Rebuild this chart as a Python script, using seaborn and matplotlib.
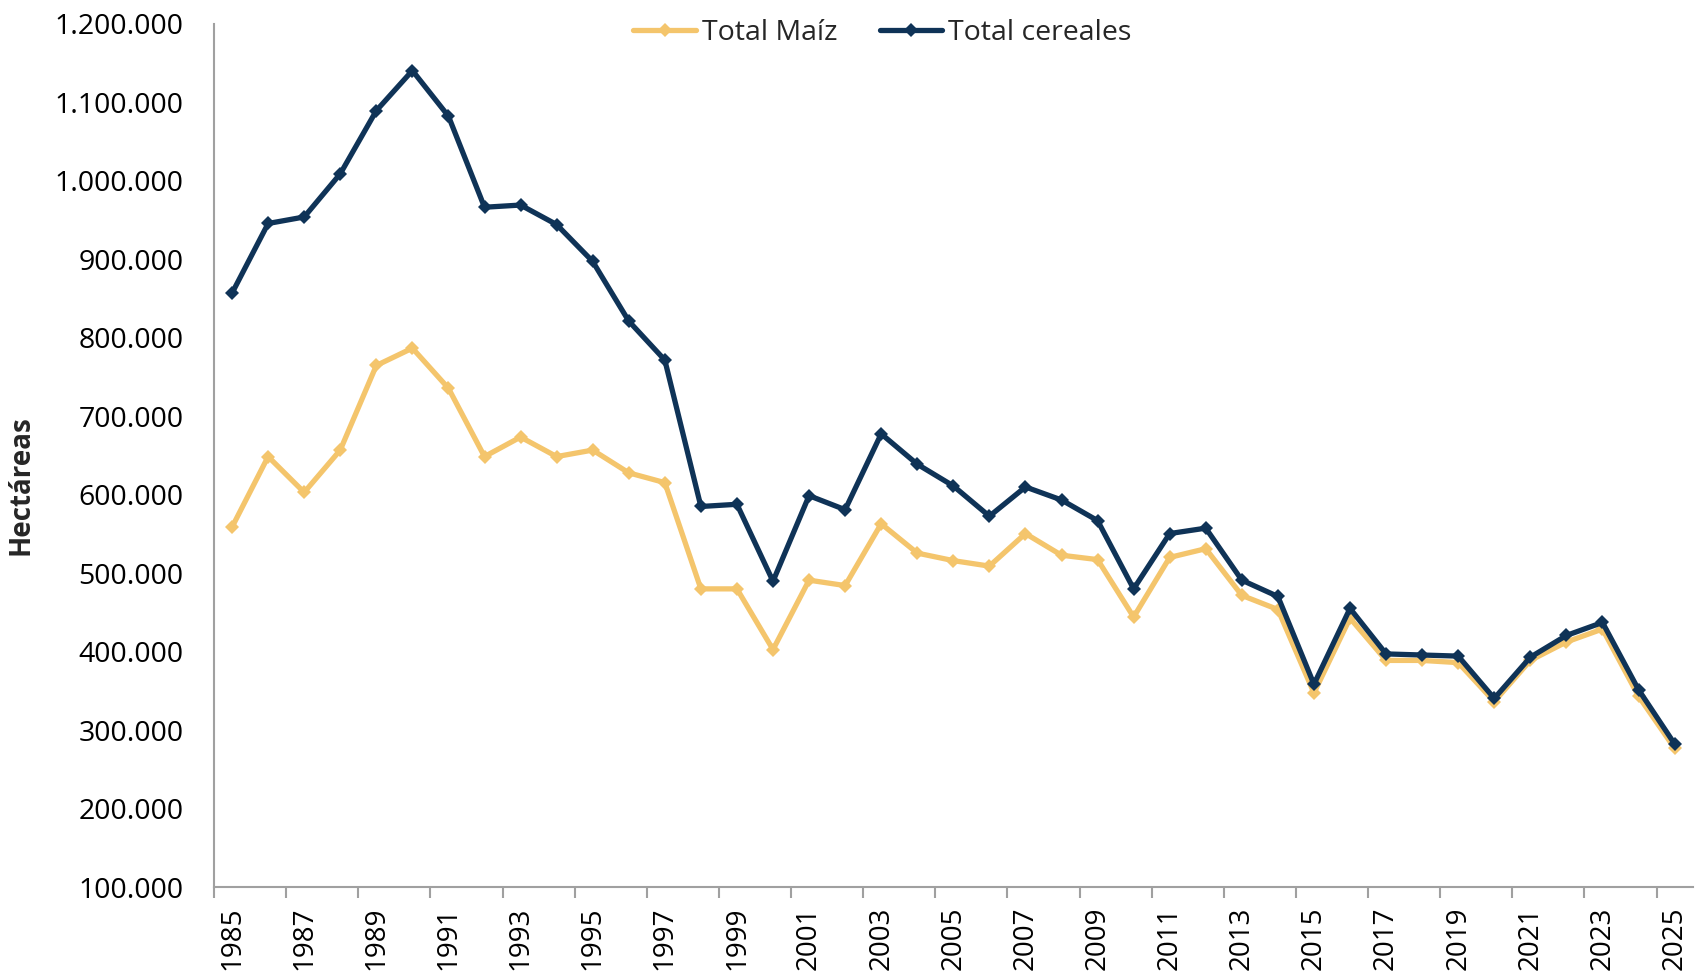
import numpy as np
import pandas as pd
import matplotlib
matplotlib.use("Agg")
import matplotlib.pyplot as plt
import seaborn as sns
from matplotlib.ticker import FuncFormatter, FixedLocator

years = list(range(1985, 2026))

total_maiz = [558800, 648600, 603000, 656900, 764700, 786800, 735700, 648600, 673500, 648600,
              656900, 627900, 615400, 480000, 480000, 402600, 491100, 484200, 563000, 525600,
              516000, 509000, 550500, 522900, 517300, 444100, 520100, 531200, 471700, 453700,
              347300, 442700, 388800, 388800, 386000, 336300, 388800, 412300, 428800, 343200,
              276800]

total_cereales = [857000, 945700, 954000, 1009000, 1089500, 1140600, 1082500, 966400, 969200, 944300,
                  897300, 821300, 771600, 585000, 587800, 489700, 598800, 580900, 677600, 638900,
                  611200, 572600, 609900, 593300, 567000, 480000, 550500, 557400, 491100, 470300,
                  358400, 455100, 397100, 395700, 394300, 340400, 392900, 420600, 437200, 351500,
                  282400]

sns.set_style("white")
plt.rcParams['font.family'] = ['Open Sans', 'DejaVu Sans']

fig = plt.figure(figsize=(16.96, 9.74), dpi=100)
ax = fig.add_axes([0.1262, 0.0893, 0.8718, 0.8861])

idx = np.arange(len(years))
sns.lineplot(x=idx, y=total_maiz, ax=ax, color='#F4C56C', linewidth=3.8,
             marker='D', markersize=7, markeredgewidth=0, label='Total Maíz')
sns.lineplot(x=idx, y=total_cereales, ax=ax, color='#0F3357', linewidth=3.8,
             marker='D', markersize=7, markeredgewidth=0, label='Total cereales')

ax.set_xlim(-0.5, len(years) - 0.5)
ax.set_ylim(100000, 1200000)
ax.set_yticks(np.arange(100000, 1200001, 100000))
ax.yaxis.set_major_formatter(FuncFormatter(lambda v, p: f"{int(v):,}".replace(",", ".")))

ax.set_xticks(idx[::2])
ax.set_xticklabels([str(y) for y in years[::2]], rotation=90)
ax.xaxis.set_minor_locator(FixedLocator(np.arange(-0.5, len(years), 2)))
ax.tick_params(axis='x', which='major', length=0, labelsize=20, pad=14, colors='black')
ax.tick_params(axis='x', which='minor', length=8, width=1.5, color='#A0A0A0', bottom=True)
ax.tick_params(axis='y', length=0, labelsize=20.5, pad=22, colors='black')

for s in ['top', 'right']:
    ax.spines[s].set_visible(False)
for s in ['left', 'bottom']:
    ax.spines[s].set_color('#A0A0A0')
    ax.spines[s].set_linewidth(1.5)

ax.set_ylabel('Hectáreas', fontsize=20, fontweight='bold')
ax.yaxis.set_label_coords(-0.121, 0.466)
ax.set_xlabel('')

ax.legend(loc='upper center', bbox_to_anchor=(0.452, 1.035), ncol=2, frameon=False,
          fontsize=20.5, handlelength=2.2, handletextpad=0.2, columnspacing=1.5)

fig.savefig('out.png', dpi=100)
